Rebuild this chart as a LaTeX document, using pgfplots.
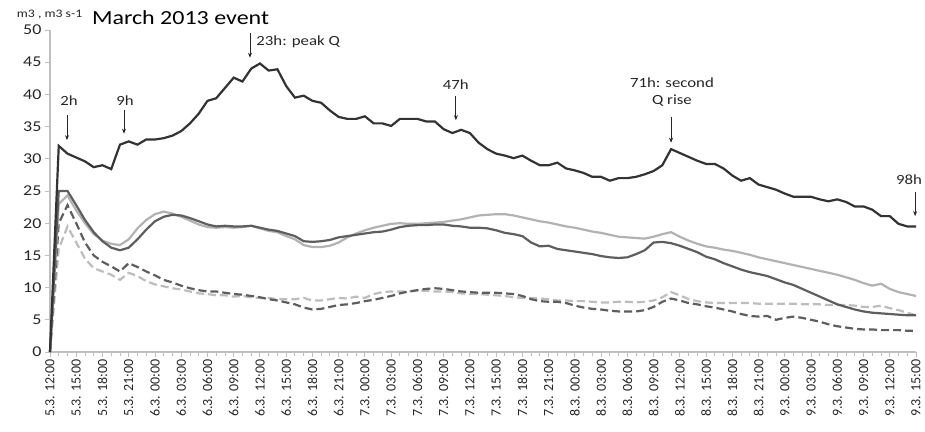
\documentclass[border=0pt]{standalone}
\usepackage{pgfplots}
\usepackage{pgfplotstable}
\pgfplotsset{compat=1.18}
\usepackage{fontspec}
\setmainfont{Carlito}[FakeStretch=1.2]
\newfontfamily\xtfont{Carlito}
\usetikzlibrary{arrows.meta}
\definecolor{cQ}{HTML}{333333}
\definecolor{cA}{HTML}{5E5E5E}
\definecolor{cB}{HTML}{B2B2B2}
\definecolor{cC}{HTML}{5E5E5E}
\definecolor{cD}{HTML}{BDBDBD}
\definecolor{axgray}{HTML}{BFBFBF}
\pgfplotstableread{
h q a b c d
0 0 0 0 0 0
1 32.0 25.0 23.0 20.0 16.0
2 30.8 25.0 24.3 22.8 19.5
3 30.2 22.8 22.0 20.0 17.0
4 29.6 20.5 20.0 17.0 14.5
5 28.7 18.6 18.3 15.0 13.0
6 29.0 17.2 17.3 14.0 12.5
7 28.4 16.2 16.8 13.3 12.0
8 32.2 15.8 16.6 12.5 11.2
9 32.7 16.2 17.5 13.8 12.3
10 32.2 17.5 19.2 13.2 11.8
11 33.0 19.0 20.5 12.5 11.0
12 33.0 20.3 21.4 11.9 10.5
13 33.2 21.0 21.8 11.2 10.2
14 33.6 21.3 21.5 10.8 9.9
15 34.3 21.2 21.0 10.3 9.7
16 35.5 20.8 20.4 9.9 9.4
17 37.0 20.3 19.8 9.6 9.1
18 39.0 19.8 19.4 9.4 9.0
19 39.4 19.5 19.3 9.4 8.8
20 41.0 19.6 19.4 9.2 8.8
21 42.6 19.5 19.3 9.0 8.6
22 42.0 19.5 19.4 8.9 8.7
23 44.0 19.6 19.6 8.7 8.5
24 44.8 19.3 19.2 8.5 8.4
25 43.7 19.0 18.8 8.2 8.4
26 43.9 18.8 18.6 8.0 8.2
27 41.3 18.4 18.0 7.7 8.2
28 39.5 18.0 17.5 7.4 8.2
29 39.8 17.2 16.6 6.9 8.4
30 39.0 17.1 16.3 6.6 8.0
31 38.7 17.2 16.3 6.7 8.0
32 37.5 17.4 16.5 7.0 8.2
33 36.5 17.8 17.0 7.3 8.4
34 36.2 18.0 17.8 7.4 8.3
35 36.2 18.2 18.4 7.6 8.6
36 36.6 18.4 18.9 7.9 8.4
37 35.5 18.6 19.3 8.1 9.0
38 35.5 18.7 19.6 8.4 9.3
39 35.1 19.0 19.9 8.7 9.4
40 36.2 19.4 20.0 9.1 9.4
41 36.2 19.6 19.9 9.4 9.4
42 36.2 19.7 19.9 9.6 9.5
43 35.8 19.7 20.0 9.8 9.5
44 35.8 19.8 20.1 9.9 9.4
45 34.6 19.8 20.2 9.8 9.4
46 34.0 19.6 20.4 9.6 9.3
47 34.5 19.5 20.6 9.4 9.1
48 34.0 19.3 20.9 9.3 9.0
49 32.5 19.3 21.2 9.2 9.0
50 31.5 19.2 21.3 9.2 8.9
51 30.8 18.9 21.4 9.2 8.8
52 30.5 18.5 21.4 9.1 8.7
53 30.1 18.3 21.2 9.0 8.5
54 30.5 18.0 20.9 8.7 8.4
55 29.7 17.0 20.6 8.2 8.4
56 29.0 16.4 20.3 7.9 8.3
57 29.0 16.5 20.1 7.8 8.2
58 29.4 16.0 19.8 7.8 8.0
59 28.5 15.8 19.5 7.6 8.0
60 28.2 15.6 19.3 7.2 7.9
61 27.8 15.4 19.0 6.9 7.9
62 27.2 15.2 18.7 6.7 7.8
63 27.2 14.9 18.5 6.6 7.7
64 26.6 14.7 18.2 6.4 7.7
65 27.0 14.6 17.9 6.3 7.8
66 27.0 14.7 17.8 6.3 7.8
67 27.2 15.2 17.7 6.3 7.7
68 27.6 15.8 17.6 6.5 7.8
69 28.1 17.0 17.9 7.0 8.0
70 29.0 17.1 18.3 7.8 8.5
71 31.5 16.9 18.6 8.3 9.3
72 30.9 16.5 17.9 8.0 8.8
73 30.3 16.0 17.3 7.6 8.2
74 29.7 15.5 16.8 7.4 7.9
75 29.2 14.8 16.4 7.1 7.7
76 29.2 14.4 16.2 6.9 7.6
77 28.5 13.8 15.9 6.6 7.6
78 27.4 13.3 15.7 6.3 7.6
79 26.6 12.8 15.4 5.9 7.6
80 27.0 12.4 15.1 5.6 7.6
81 26.0 12.1 14.7 5.5 7.5
82 25.6 11.8 14.4 5.6 7.5
83 25.2 11.3 14.1 5.0 7.5
84 24.6 10.8 13.8 5.3 7.5
85 24.1 10.4 13.5 5.5 7.5
86 24.1 9.8 13.2 5.3 7.4
87 24.1 9.2 12.9 5.0 7.4
88 23.7 8.6 12.6 4.7 7.4
89 23.4 8.0 12.3 4.3 7.3
90 23.7 7.4 12.0 4.0 7.3
91 23.3 7.0 11.6 3.8 7.3
92 22.6 6.6 11.2 3.6 7.2
93 22.6 6.3 10.7 3.5 7.0
94 22.1 6.1 10.3 3.5 7.0
95 21.1 6.0 10.6 3.4 7.2
96 21.1 5.9 9.8 3.4 6.8
97 19.9 5.8 9.3 3.4 6.5
98 19.5 5.7 9.0 3.3 6.1
99 19.5 5.7 8.7 3.3 5.7
}\datatable
\begin{document}
\begin{tikzpicture}
\useasboundingbox (-50bp,-80bp) rectangle (875bp,352bp);
\begin{axis}[
  scale only axis,
  width=866bp, height=322bp,
  xmin=0, xmax=99, ymin=0, ymax=50,
  axis x line*=bottom, axis y line*=left,
  axis line style={axgray, line width=1.3bp},
  every tick/.style={axgray, line width=0.9bp},
  tick align=outside,
  major tick length=5bp, minor tick length=4bp,
  ytick={0,5,...,50},
  xtick={0,3,...,99},
  minor x tick num=2,
  xticklabels={5.3. 12:00,5.3. 15:00,5.3. 18:00,5.3. 21:00,6.3. 00:00,6.3. 03:00,6.3. 06:00,6.3. 09:00,6.3. 12:00,6.3. 15:00,6.3. 18:00,6.3. 21:00,7.3. 00:00,7.3. 03:00,7.3. 06:00,7.3. 09:00,7.3. 12:00,7.3. 15:00,7.3. 18:00,7.3. 21:00,8.3. 00:00,8.3. 03:00,8.3. 06:00,8.3. 09:00,8.3. 12:00,8.3. 15:00,8.3. 18:00,8.3. 21:00,9.3. 00:00,9.3. 03:00,9.3. 06:00,9.3. 09:00,9.3. 12:00,9.3. 15:00},
  xticklabel style={rotate=90, anchor=east, font=\xtfont\fontsize{14bp}{16bp}\selectfont, text=black!85, inner sep=2bp},
  yticklabel style={font=\fontsize{15bp}{17bp}\selectfont, text=black!85},
  /pgf/number format/assume math mode=true,
  clip=false,
]
\addplot[cD, line width=2.2bp, dash pattern=on 8bp off 4bp] table[x=h,y=d]{\datatable};
\addplot[cC, line width=2.2bp, dash pattern=on 8bp off 4bp] table[x=h,y=c]{\datatable};
\addplot[cB, line width=2.2bp] table[x=h,y=b]{\datatable};
\addplot[cA, line width=2.2bp] table[x=h,y=a]{\datatable};
\addplot[cQ, line width=2.2bp] table[x=h,y=q]{\datatable};
% title and units
\node[anchor=west, font=\fontsize{20bp}{22bp}\selectfont, text=black] at (axis cs:4.4,51.9) {March 2013 event};
\node[anchor=east, font=\fontsize{11.5bp}{13bp}\selectfont, text=black!85] at (axis cs:4.1,52.4) {m3 , m3 s-1};
% annotations
\tikzset{ann/.style={font=\fontsize{14bp}{16bp}\selectfont, text=black!85}, arr/.style={black!85, line width=0.8bp, -{Stealth[length=5bp,width=4bp]}}}
\node[ann] at (axis cs:2.17,39.1) {2h};
\draw[arr] (axis cs:1.94,36.8) -- (axis cs:1.94,32.9);
\node[ann] at (axis cs:8.57,39.1) {9h};
\draw[arr] (axis cs:8.46,37.6) -- (axis cs:8.46,33.9);
\draw[arr] (axis cs:22.86,49.5) -- (axis cs:22.86,45.7);
\node[ann, anchor=west] at (axis cs:23.2,48.1) {23h: peak Q};
\node[ann] at (axis cs:46.4,41.5) {47h};
\draw[arr] (axis cs:46.4,39.8) -- (axis cs:46.4,36.0);
\node[ann, align=center, inner sep=0pt] at (axis cs:71.1,40.3) {71h: second\\[1pt]Q rise};
\draw[arr] (axis cs:71.0,36.5) -- (axis cs:71.0,32.5);
\node[ann] at (axis cs:98.2,26.7) {98h};
\draw[arr] (axis cs:98.9,24.8) -- (axis cs:98.9,21.1);
\end{axis}
\end{tikzpicture}
\end{document}
